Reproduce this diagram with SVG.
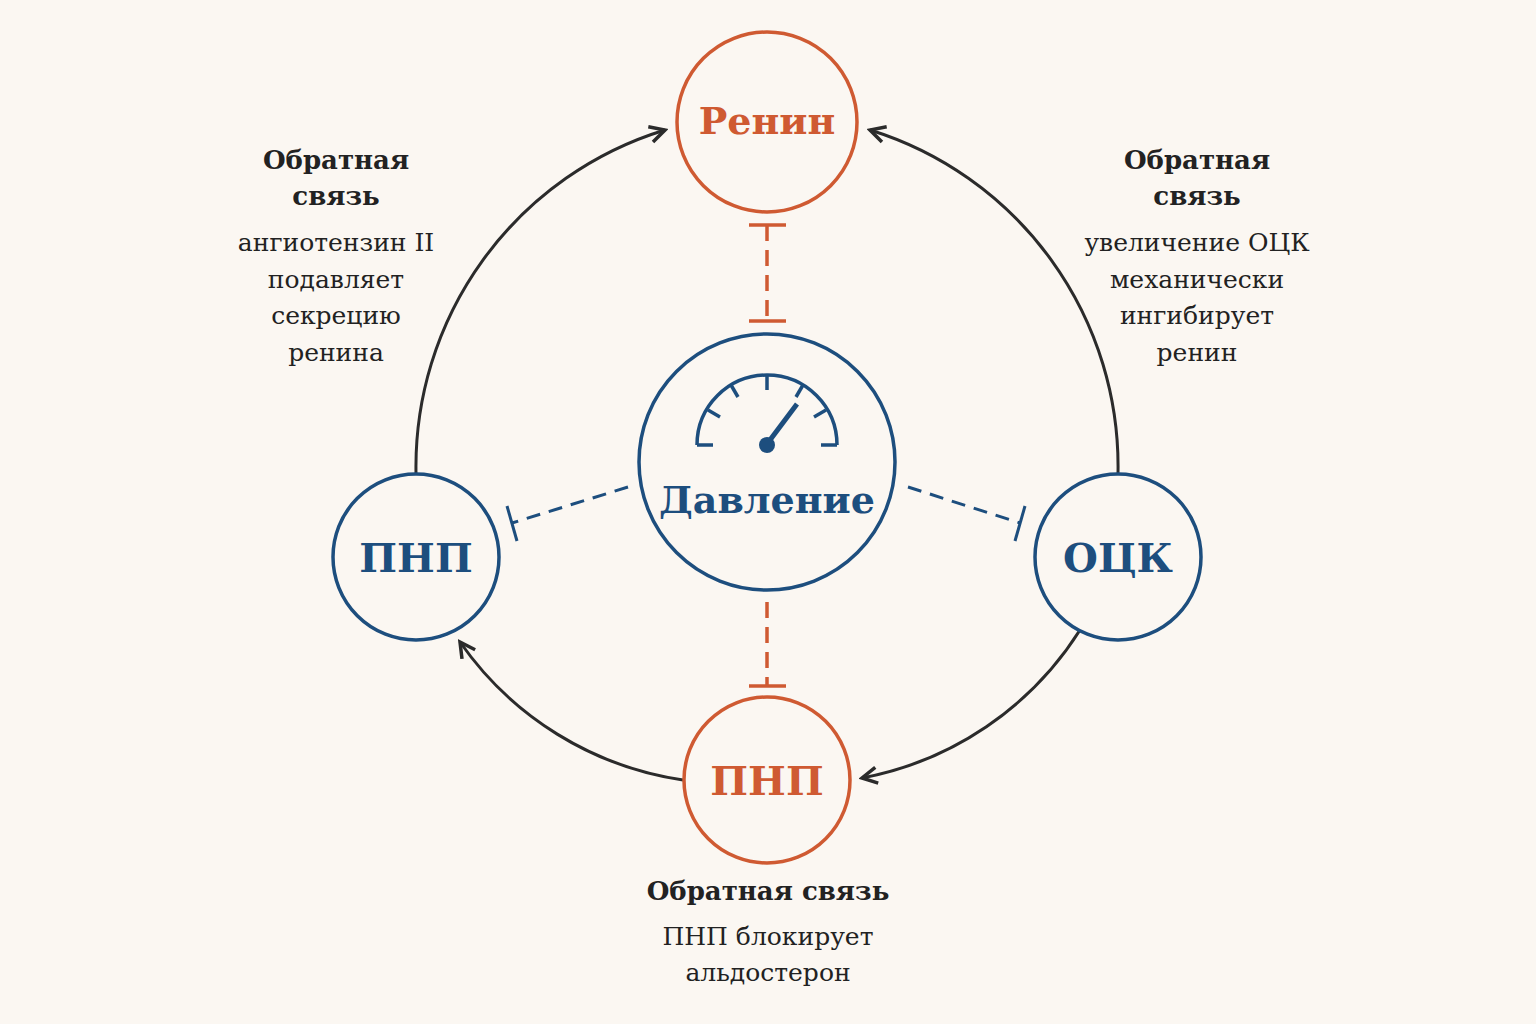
<svg xmlns="http://www.w3.org/2000/svg" width="1536" height="1024" viewBox="0 0 1536 1024">
<defs>
<marker id="ah" viewBox="0 0 20 20" refX="17" refY="10" markerWidth="20" markerHeight="20" markerUnits="userSpaceOnUse" orient="auto"><path d="M2,2 L17,10 L2,18" fill="none" stroke="#2b2b2b" stroke-width="3.5"/></marker>
<style>
.n{fill:#fbf7f2;stroke-width:3.5}
.b{stroke:#1d4e7e}.o{stroke:#cf5a32}
.t{font-family:"DejaVu Serif","Liberation Serif",serif;font-weight:bold;text-anchor:middle}
.l{font-family:"DejaVu Serif","Liberation Serif",serif;font-size:25px;fill:#222;text-anchor:middle}
.lb{font-weight:bold;font-size:26px}
.c{fill:none;stroke:#2b2b2b;stroke-width:3;marker-end:url(#ah)}
.ib{fill:none;stroke:#1d4e7e;stroke-width:3}
.io{fill:none;stroke:#cf5a32;stroke-width:3.5}
</style>
</defs>
<rect width="1536" height="1024" fill="#fbf7f2"/>
<g id="connectors">
<path class="c" d="M416,473 A352,352 0 0 1 665,130"/>
<path class="c" d="M1118,473 A352,352 0 0 0 870,130"/>
<path class="c" d="M1080,630 A330,330 0 0 1 862,778"/>
<path class="c" d="M683,780 A330,330 0 0 1 460,642"/>
<g class="io"><line x1="767" y1="225" x2="767" y2="321" stroke-dasharray="16,9"/><line x1="749" y1="225" x2="786" y2="225"/><line x1="749" y1="321" x2="786" y2="321"/>
<line x1="767" y1="602" x2="767" y2="686" stroke-dasharray="16,9"/><line x1="749" y1="686" x2="786" y2="686"/></g>
<g class="ib"><line x1="628" y1="487" x2="512" y2="523" stroke-dasharray="14,9"/><line x1="507" y1="506" x2="517" y2="541"/>
<line x1="908" y1="487" x2="1020" y2="523" stroke-dasharray="14,9"/><line x1="1025" y1="506" x2="1015" y2="541"/></g>
</g>
<g id="renin"><circle class="n o" cx="767" cy="122" r="90"/><text class="t" x="767" y="134" font-size="38" fill="#cf5a32">Ренин</text></g>
<g id="pressure"><circle class="n b" cx="767" cy="462" r="128"/>
<g fill="none" stroke="#1d4e7e" stroke-width="3.5"><path d="M697,445 A70,70 0 0 1 837,445"/><line x1="697" y1="445" x2="713" y2="445"/><line x1="821" y1="445" x2="837" y2="445"/>
<line x1="767" y1="375" x2="767" y2="390"/><line x1="731" y1="385" x2="738" y2="397"/><line x1="708" y1="410" x2="720" y2="417"/><line x1="803" y1="385" x2="796" y2="397"/><line x1="826" y1="410" x2="814" y2="417"/>
<line x1="767" y1="444" x2="797" y2="404" stroke-width="5"/></g>
<circle cx="767" cy="445" r="8" fill="#1d4e7e"/>
<text class="t" x="767" y="513" font-size="38" fill="#1d4e7e">Давление</text></g>
<g id="pnp-left"><circle class="n b" cx="416" cy="557" r="83"/><text class="t" x="416" y="572" font-size="40" fill="#1d4e7e">ПНП</text></g>
<g id="ock"><circle class="n b" cx="1118" cy="557" r="83"/><text class="t" x="1118" y="572" font-size="40" fill="#1d4e7e">ОЦК</text></g>
<g id="pnp-bottom"><circle class="n o" cx="767" cy="780" r="83"/><text class="t" x="767" y="795" font-size="40" fill="#cf5a32">ПНП</text></g>
<g id="labels">
<text class="l"><tspan class="lb" x="336" y="169">Обратная</tspan><tspan class="lb" x="336" y="205">связь</tspan><tspan x="336" y="251">ангиотензин II</tspan><tspan x="336" y="288">подавляет</tspan><tspan x="336" y="324">секрецию</tspan><tspan x="336" y="361">ренина</tspan></text>
<text class="l"><tspan class="lb" x="1197" y="169">Обратная</tspan><tspan class="lb" x="1197" y="205">связь</tspan><tspan x="1197" y="251">увеличение ОЦК</tspan><tspan x="1197" y="288">механически</tspan><tspan x="1197" y="324">ингибирует</tspan><tspan x="1197" y="361">ренин</tspan></text>
<text class="l"><tspan class="lb" x="768" y="900">Обратная связь</tspan><tspan x="768" y="945">ПНП блокирует</tspan><tspan x="768" y="981">альдостерон</tspan></text>
</g>
</svg>
